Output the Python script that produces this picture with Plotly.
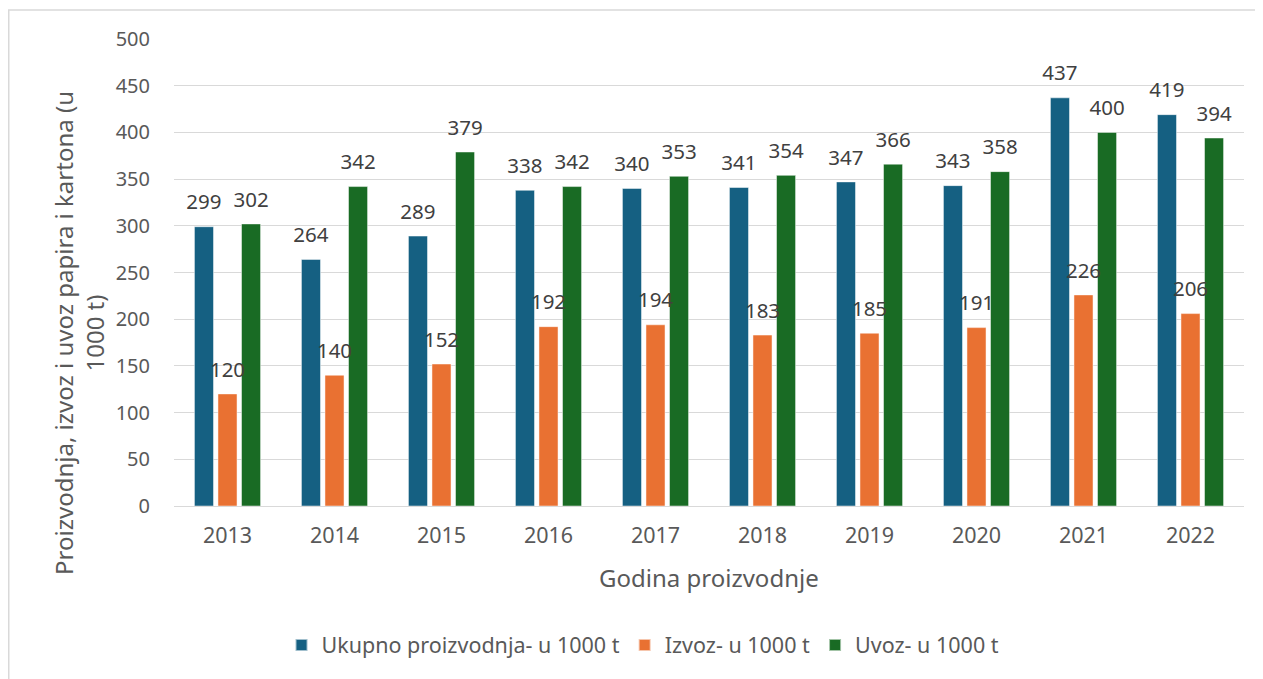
import plotly.graph_objects as go

years = ["2013", "2014", "2015", "2016", "2017", "2018", "2019", "2020", "2021", "2022"]
proizvodnja = [299, 264, 289, 338, 340, 341, 347, 343, 437, 419]
izvoz = [120, 140, 152, 192, 194, 183, 185, 191, 226, 206]
uvoz = [302, 342, 379, 342, 353, 354, 366, 358, 400, 394]

series_names = ["Ukupno proizvodnja- u 1000 t", "Izvoz- u 1000 t", "Uvoz- u 1000 t"]
series_values = [proizvodnja, izvoz, uvoz]
colors = ["#156082", "#E97132", "#196B24"]

FONT = "Noto Sans"
TXT = "#595959"

# page has an 8px body margin; figure sized to fit the 1263x679 window
W, H = 1255, 671
ML, MR, MT, MB = 166, 19, 31, 173
PW = W - ML - MR
PH = H - MT - MB

fig = go.Figure()
for i, (name, vals, col) in enumerate(zip(series_names, series_values, colors)):
    fig.add_trace(go.Bar(
        x=years, y=vals, name=name, offsetgroup=str(i),
        marker=dict(color=col, line=dict(color="rgba(255,255,255,0.6)", width=0.8)),
        hoverinfo="x+y",
    ))
for i, (name, vals, col) in enumerate(zip(series_names, series_values, colors)):
    fig.add_trace(go.Scatter(
        x=years, y=vals, mode="markers+text", offsetgroup=str(i),
        text=[str(v) for v in vals], textposition="top center",
        textfont=dict(family=FONT, size=20.5, color="#404040"),
        marker=dict(size=18, opacity=0, color=col),
        showlegend=False, hoverinfo="skip", cliponaxis=False,
    ))

fig.update_layout(
    width=W, height=H,
    margin=dict(l=ML, r=MR, t=MT, b=MB),
    paper_bgcolor="white", plot_bgcolor="white",
    barmode="group", bargap=0.34, bargroupgap=0.19,
    scattermode="group", scattergap=0.34,
    font=dict(family=FONT, size=20, color=TXT),
    xaxis=dict(
        type="category", showgrid=False, showline=False, ticks="",
        tickfont=dict(size=21.5, color=TXT), ticklabelstandoff=14,
    ),
    yaxis=dict(
        range=[0, 500], dtick=50, showgrid=True, gridcolor="#d9d9d9", gridwidth=1.3,
        zeroline=True, zerolinecolor="#d9d9d9", zerolinewidth=1.3, showline=False, ticks="",
        tickfont=dict(size=20, color=TXT), ticklabelstandoff=23,
    ),
    legend=dict(
        orientation="h", xref="container", yref="container",
        x=0.506, y=(H - 637) / H, xanchor="center", yanchor="middle",
        font=dict(size=21.5, color=TXT), itemsizing="constant",
    ),
    annotations=[
        dict(
            text="Proizvodnja, izvoz i uvoz papira i kartona (u<br>1000 t)",
            textangle=-90, xref="paper", yref="paper",
            x=(71 - ML) / PW, y=(MT + PH - 325) / PH, xanchor="center", yanchor="middle",
            showarrow=False, font=dict(size=24, color=TXT),
        ),
        dict(
            text="Godina proizvodnje", xref="paper", yref="paper",
            x=0.5, y=(MT + PH - 569) / PH, xanchor="center", yanchor="middle",
            showarrow=False, font=dict(size=24, color=TXT),
        ),
    ],
    shapes=[dict(
        type="rect", xref="paper", yref="paper",
        x0=(0.75 - ML) / PW, x1=(W + 10 - ML) / PW,
        y0=(MT + PH - (H + 10)) / PH, y1=(MT + PH - 2) / PH,
        line=dict(color="#d9d9d9", width=1.5), layer="below",
    )],
)

fig.write_html("out.html")
